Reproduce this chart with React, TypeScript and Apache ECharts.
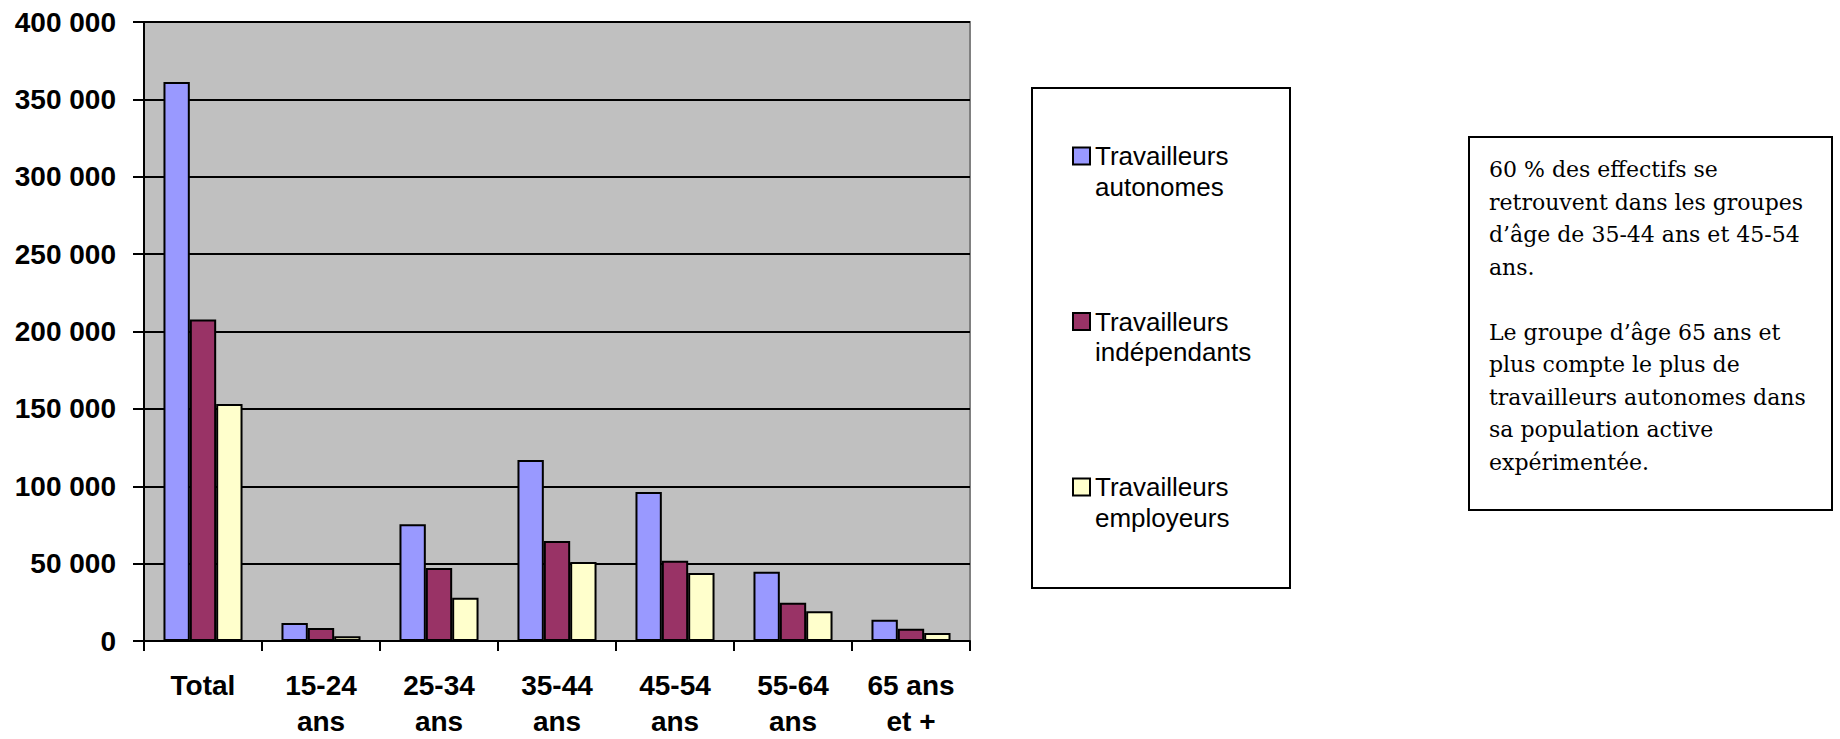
import React, { useEffect, useRef } from "react";
import * as echarts from "echarts";

const categories = ["Total", "15-24\nans", "25-34\nans", "35-44\nans", "45-54\nans", "55-64\nans", "65 ans\net +"];
const seriesNames = ["Travailleurs autonomes", "Travailleurs indépendants", "Travailleurs employeurs"];
const autonomes = [361200, 11600, 75500, 116900, 96300, 44800, 13700];
const independants = [207800, 8400, 47200, 64600, 51900, 24700, 7900];
const employeurs = [153200, 3000, 27900, 51100, 44000, 19300, 5200];
const seriesColors = ["#9999FF", "#993366", "#FFFFCC"];
const yMin = 0;
const yMax = 400000;
const yInterval = 50000;
const noteLines = [
  "60 % des effectifs se",
  "retrouvent dans les groupes",
  "d\u2019âge de 35-44 ans et 45-54",
  "ans.",
  "",
  "Le groupe d\u2019âge 65 ans et",
  "plus compte le plus de",
  "travailleurs autonomes dans",
  "sa population active",
  "expérimentée.",
];

const fmtThousands = (v: number) => String(v).replace(/\B(?=(\d{3})+(?!\d))/g, " ");

export default function App() {
  const ref = useRef<HTMLDivElement>(null);
  useEffect(() => {
    if (!ref.current) return;
    const chart = echarts.init(ref.current, undefined, { renderer: "svg" });
    const dataSets = [autonomes, independants, employeurs];
    const legendTops = [110.25, 275.75, 441.25];
    const option: any = {
      animation: false,
      backgroundColor: "#ffffff",
      textStyle: { fontFamily: "Liberation Sans, Arial, sans-serif" },
      grid: {
        left: 144,
        top: 22,
        width: 826,
        height: 621,
        show: true,
        backgroundColor: "#C0C0C0",
        borderColor: "#808080",
        borderWidth: 2,
      },
      xAxis: {
        type: "category",
        data: categories,
        axisLine: { show: true, lineStyle: { color: "#000", width: 2 } },
        axisTick: { show: true, length: 10, alignWithLabel: false, lineStyle: { color: "#000", width: 2 } },
        axisLabel: {
          interval: 0,
          margin: 26,
          color: "#000",
          fontWeight: "bold",
          fontSize: 28,
          lineHeight: 36,
          fontFamily: "Liberation Sans, Arial, sans-serif",
        },
        splitLine: { show: false },
      },
      yAxis: {
        type: "value",
        min: yMin,
        max: yMax,
        interval: yInterval,
        axisLine: { show: true, lineStyle: { color: "#000", width: 2 } },
        axisTick: { show: true, length: 11, lineStyle: { color: "#000", width: 2 } },
        axisLabel: {
          margin: 28,
          color: "#000",
          fontWeight: "bold",
          fontSize: 28,
          fontFamily: "Liberation Sans, Arial, sans-serif",
          formatter: (v: number) => fmtThousands(v),
        },
        splitLine: { show: true, lineStyle: { color: "#000", width: 2 } },
      },
      legend: seriesNames.map((name, i) => ({
        data: [name],
        orient: "vertical",
        left: 1072,
        top: legendTops[i],
        padding: 0,
        itemWidth: 17,
        itemHeight: 17,
        icon: "rect",
        selectedMode: false,
        itemStyle: { borderColor: "#000", borderWidth: 2 },
        formatter: (n: string) => " \n" + n.replace(" ", "\n"),
        textStyle: {
          color: "#000",
          fontSize: 26,
          lineHeight: 30.5,
          fontFamily: "Liberation Sans, Arial, sans-serif",
        },
      })),
      graphic: [
        {
          type: "rect",
          z: -1,
          shape: { x: 1032, y: 88, width: 258, height: 500 },
          style: { fill: "#fff", stroke: "#000", lineWidth: 2 },
        },
        {
          type: "rect",
          z: -1,
          shape: { x: 1469, y: 137, width: 363, height: 373 },
          style: { fill: "#fff", stroke: "#000", lineWidth: 2 },
        },
        {
          type: "text",
          x: 1489,
          y: 153.5,
          style: {
            text: noteLines.join("\n"),
            fontFamily: "DejaVu Serif, Liberation Serif, serif",
            fontSize: 22,
            lineHeight: 32.5,
            fill: "#000",
            verticalAlign: "top",
            align: "left",
          },
        },
      ],
      series: seriesNames.map((name, i) => ({
        name,
        type: "bar",
        data: dataSets[i],
        barGap: "0%",
        barCategoryGap: "33%",
        itemStyle: { color: seriesColors[i], borderColor: "#000", borderWidth: 2 },
      })),
    };
    chart.setOption(option);
    return () => chart.dispose();
  }, []);
  return (
    <div
      ref={ref}
      style={{ position: "fixed", left: 0, top: 0, width: 1840, height: 739, background: "#fff" }}
    />
  );
}
